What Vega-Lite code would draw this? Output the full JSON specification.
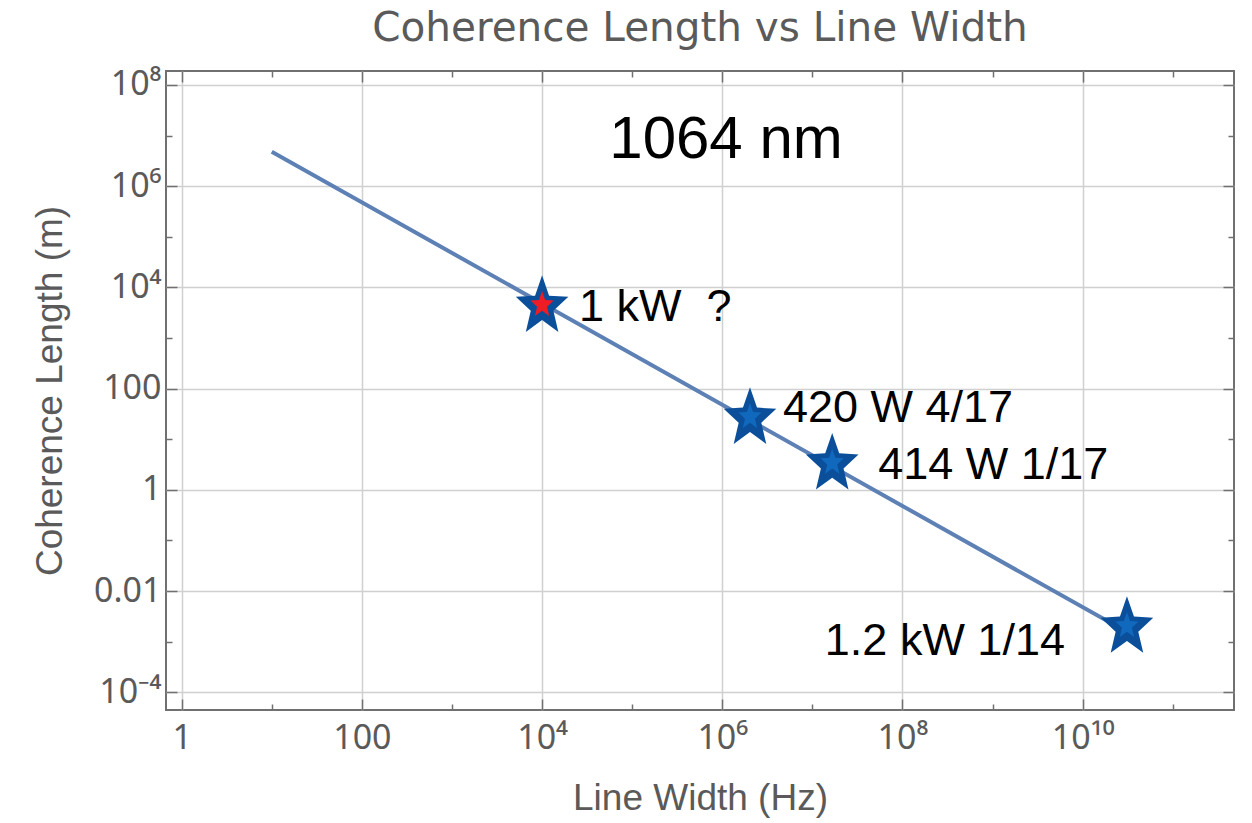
{
  "$schema": "https://vega.github.io/schema/vega-lite/v6.json",
  "width": 1068,
  "height": 639,
  "autosize": {"type": "none"},
  "padding": {"left": 166, "top": 71, "right": 18, "bottom": 113},
  "background": "white",
  "config": {
    "font": "Liberation Sans",
    "view": {"stroke": "#707070", "strokeWidth": 2}
  },
  "title": {
    "text": "Coherence Length vs Line Width",
    "font": "DejaVu Sans",
    "fontSize": 40.5,
    "fontWeight": "normal",
    "color": "#5a5a5a",
    "anchor": "middle",
    "offset": 18
  },
  "datasets": {
    "trend": [
      {"linewidth_hz": 10, "coherence_m": 4800000},
      {"linewidth_hz": 10000, "coherence_m": 4800},
      {"linewidth_hz": 1000000, "coherence_m": 48},
      {"linewidth_hz": 100000000, "coherence_m": 0.48},
      {"linewidth_hz": 30000000000, "coherence_m": 0.0016}
    ],
    "lasers": [
      {"laser": "1 kW\u00a0\u00a0?", "linewidth_hz": 10000, "coherence_m": 4800, "status": "proposed"},
      {"laser": "420 W 4/17", "linewidth_hz": 2030000, "coherence_m": 29.4, "status": "measured"},
      {"laser": "414 W 1/17", "linewidth_hz": 16600000, "coherence_m": 3.67, "status": "measured"},
      {"laser": "1.2 kW 1/14", "linewidth_hz": 31000000000, "coherence_m": 0.00218, "status": "measured"}
    ],
    "notes": [
      {"note": "1064 nm", "linewidth_hz": 1100000, "coherence_m": 3600000}
    ]
  },
  "resolve": {"axis": {"x": "independent", "y": "independent"}},
  "layer": [
    {
      "data": {"name": "trend"},
      "mark": {"type": "line", "color": "#5e81b5", "strokeWidth": 4, "clip": true},
      "encoding": {
        "x": {
          "field": "linewidth_hz",
          "type": "quantitative",
          "scale": {"type": "log", "domain": [0.67, 478000000000], "nice": false},
          "axis": {
            "orient": "bottom",
            "values": [1, 10, 100, 1000, 10000, 100000, 1000000, 10000000, 100000000, 1000000000, 10000000000, 100000000000],
            "labelExpr": "round(log(datum.value)/LN10) == 0 ? '1' : round(log(datum.value)/LN10) == 2 ? '100' : round(log(datum.value)/LN10) == 4 ? '10⁴' : round(log(datum.value)/LN10) == 6 ? '10⁶' : round(log(datum.value)/LN10) == 8 ? '10⁸' : round(log(datum.value)/LN10) == 10 ? '10¹⁰' : ''",
            "title": "Line Width (Hz)",
            "domain": false,
            "grid": true,
            "gridColor": "#d0d0d0",
            "gridWidth": 1.5,
            "gridOpacity": {"condition": {"test": "round(log(datum.value)/LN10) % 2 != 0", "value": 0}, "value": 1},
            "tickColor": "#707070",
            "tickWidth": 1.5,
            "tickSize": {"condition": {"test": "round(log(datum.value)/LN10) % 2 == 0", "value": -11}, "value": -6},
            "labelFont": "Noto Sans",
            "labelFontSize": 34,
            "labelColor": "#5a5a5a",
            "labelPadding": 22,
            "labelFlush": false,
            "labelOverlap": false,
            "titleFont": "Liberation Sans",
            "titleFontSize": 37,
            "titleFontWeight": "normal",
            "titleColor": "#5a5a5a",
            "titlePadding": 20
          }
        },
        "y": {
          "field": "coherence_m",
          "type": "quantitative",
          "scale": {"type": "log", "domain": [0.0000446, 189000000], "nice": false},
          "axis": {
            "orient": "left",
            "values": [0.0001, 0.001, 0.01, 0.1, 1, 10, 100, 1000, 10000, 100000, 1000000, 10000000, 100000000],
            "labelExpr": "round(log(datum.value)/LN10) == 8 ? '10⁸' : round(log(datum.value)/LN10) == 6 ? '10⁶' : round(log(datum.value)/LN10) == 4 ? '10⁴' : round(log(datum.value)/LN10) == 2 ? '100' : round(log(datum.value)/LN10) == 0 ? '1' : round(log(datum.value)/LN10) == -2 ? '0.01' : round(log(datum.value)/LN10) == -4 ? '10⁻⁴' : ''",
            "title": "Coherence Length (m)",
            "domain": false,
            "grid": true,
            "gridColor": "#d0d0d0",
            "gridWidth": 1.5,
            "gridOpacity": {"condition": {"test": "round(log(datum.value)/LN10) % 2 != 0", "value": 0}, "value": 1},
            "tickColor": "#707070",
            "tickWidth": 1.5,
            "tickSize": {"condition": {"test": "round(log(datum.value)/LN10) % 2 == 0", "value": -11}, "value": -6},
            "labelFont": "Noto Sans",
            "labelFontSize": 34,
            "labelColor": "#5a5a5a",
            "labelPadding": 16,
            "labelFlush": false,
            "labelOverlap": false,
            "titleFont": "Liberation Sans",
            "titleFontSize": 37,
            "titleFontWeight": "normal",
            "titleColor": "#5a5a5a",
            "titlePadding": 24
          }
        }
      }
    },
    {
      "data": {"name": "lasers"},
      "mark": {
        "type": "point",
        "shape": "M0,-1L0.247,-0.279L0.928,-0.236L0.399,0.253L0.574,1L0,0.581L-0.574,1L-0.399,0.253L-0.928,-0.236L-0.247,-0.279Z",
        "filled": true,
        "size": 3215,
        "color": "#0b4f9b",
        "opacity": 1,
        "strokeWidth": 0
      },
      "encoding": {
        "x": {
          "field": "linewidth_hz",
          "type": "quantitative",
          "axis": {
            "orient": "top",
            "values": [1, 10, 100, 1000, 10000, 100000, 1000000, 10000000, 100000000, 1000000000, 10000000000, 100000000000],
            "labels": false,
            "title": null,
            "domain": false,
            "grid": false,
            "tickColor": "#707070",
            "tickWidth": 1.5,
            "tickSize": {"condition": {"test": "round(log(datum.value)/LN10) % 2 == 0", "value": -11}, "value": -6}
          }
        },
        "y": {
          "field": "coherence_m",
          "type": "quantitative",
          "axis": {
            "orient": "right",
            "values": [0.0001, 0.001, 0.01, 0.1, 1, 10, 100, 1000, 10000, 100000, 1000000, 10000000, 100000000],
            "labels": false,
            "title": null,
            "domain": false,
            "grid": false,
            "tickColor": "#707070",
            "tickWidth": 1.5,
            "tickSize": {"condition": {"test": "round(log(datum.value)/LN10) % 2 == 0", "value": -11}, "value": -6}
          }
        }
      }
    },
    {
      "data": {"name": "lasers"},
      "mark": {
        "type": "point",
        "shape": "M0,-1L0.247,-0.279L0.928,-0.236L0.399,0.253L0.574,1L0,0.581L-0.574,1L-0.399,0.253L-0.928,-0.236L-0.247,-0.279Z",
        "filled": true,
        "size": 620,
        "opacity": 1,
        "strokeWidth": 0
      },
      "encoding": {
        "x": {"field": "linewidth_hz", "type": "quantitative", "axis": null},
        "y": {"field": "coherence_m", "type": "quantitative", "axis": null},
        "color": {
          "field": "status",
          "type": "nominal",
          "scale": {"domain": ["proposed", "measured"], "range": ["#ee1c25", "#1169be"]},
          "legend": null
        }
      }
    },
    {
      "data": {"name": "lasers"},
      "transform": [{"filter": "datum.status == 'proposed'"}],
      "mark": {"type": "text", "font": "Liberation Sans", "fontSize": 45, "color": "#000000", "align": "left", "baseline": "alphabetic", "dx": 37, "dy": 17},
      "encoding": {
        "x": {"field": "linewidth_hz", "type": "quantitative", "axis": null},
        "y": {"field": "coherence_m", "type": "quantitative", "axis": null},
        "text": {"field": "laser"}
      }
    },
    {
      "data": {"name": "lasers"},
      "transform": [{"filter": "datum.laser == '420 W 4/17'"}],
      "mark": {"type": "text", "font": "Liberation Sans", "fontSize": 45, "color": "#000000", "align": "left", "baseline": "alphabetic", "dx": 33, "dy": 6},
      "encoding": {
        "x": {"field": "linewidth_hz", "type": "quantitative", "axis": null},
        "y": {"field": "coherence_m", "type": "quantitative", "axis": null},
        "text": {"field": "laser"}
      }
    },
    {
      "data": {"name": "lasers"},
      "transform": [{"filter": "datum.laser == '414 W 1/17'"}],
      "mark": {"type": "text", "font": "Liberation Sans", "fontSize": 45, "color": "#000000", "align": "left", "baseline": "alphabetic", "dx": 46, "dy": 18},
      "encoding": {
        "x": {"field": "linewidth_hz", "type": "quantitative", "axis": null},
        "y": {"field": "coherence_m", "type": "quantitative", "axis": null},
        "text": {"field": "laser"}
      }
    },
    {
      "data": {"name": "lasers"},
      "transform": [{"filter": "datum.laser == '1.2 kW 1/14'"}],
      "mark": {"type": "text", "font": "Liberation Sans", "fontSize": 45, "color": "#000000", "align": "right", "baseline": "alphabetic", "dx": -62, "dy": 30},
      "encoding": {
        "x": {"field": "linewidth_hz", "type": "quantitative", "axis": null},
        "y": {"field": "coherence_m", "type": "quantitative", "axis": null},
        "text": {"field": "laser"}
      }
    },
    {
      "data": {"name": "notes"},
      "mark": {"type": "text", "font": "Liberation Sans", "fontSize": 60, "color": "#000000", "align": "center", "baseline": "alphabetic"},
      "encoding": {
        "x": {"field": "linewidth_hz", "type": "quantitative", "axis": null},
        "y": {"field": "coherence_m", "type": "quantitative", "axis": null},
        "text": {"field": "note"}
      }
    }
  ]
}
